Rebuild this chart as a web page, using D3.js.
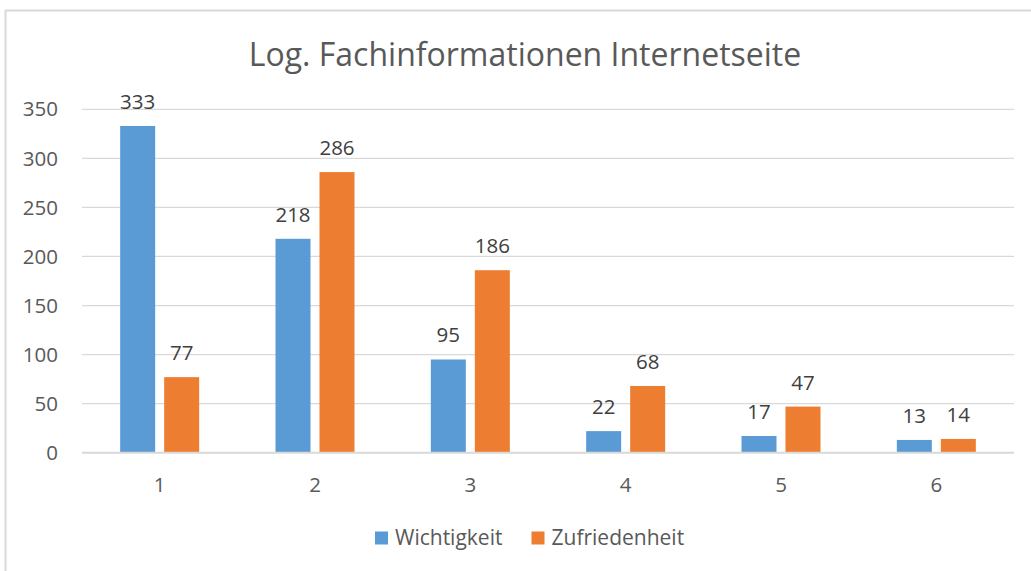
<!DOCTYPE html>
<html>
<head>
<meta charset="utf-8">
<script src="https://cdn.jsdelivr.net/npm/d3@7"></script>
<style>
  body { margin: 0; background: #fff; }
  svg { display: block; font-family: "Open Sans", "Noto Sans", sans-serif; }
</style>
</head>
<body>
<svg width="1031" height="571"></svg>
<script>
// chart values
var categories = ["1", "2", "3", "4", "5", "6"];
var seriesNames = ["Wichtigkeit", "Zufriedenheit"];
var wichtigkeit = [333, 218, 95, 22, 17, 13];
var zufriedenheit = [77, 286, 186, 68, 47, 14];
var yTicks = [0, 50, 100, 150, 200, 250, 300, 350];
var colors = ["#5B9BD5", "#ED7D31"];

var svg = d3.select("svg"),
  width = +svg.attr("width"),
  height = +svg.attr("height");

// outer frame (only left and top edges are visible in the crop)
svg.append("line").attr("x1", 5.5).attr("x2", 5.5).attr("y1", 10).attr("y2", height)
  .attr("stroke", "#D9D9D9").attr("stroke-width", 2);
svg.append("line").attr("x1", 5).attr("x2", width).attr("y1", 10.5).attr("y2", 10.5)
  .attr("stroke", "#D9D9D9").attr("stroke-width", 2);

// title
svg.append("text")
  .attr("x", 525)
  .attr("y", 66)
  .attr("text-anchor", "middle")
  .style("font-size", "32px")
  .style("fill", "#595959")
  .text("Log. Fachinformationen Internetseite");

var plotLeft = 82, plotRight = 1014, plotTop = 109.3, plotBottom = 452.7;

var x = d3.scaleBand()
  .domain(categories)
  .range([plotLeft, plotRight])
  .padding(0);

var x1 = d3.scaleBand()
  .domain(seriesNames)
  .range([-39.5, 39.5])
  .paddingInner(9 / 44);

var y = d3.scaleLinear()
  .domain([0, 350])
  .range([plotBottom, plotTop]);

// gridlines
svg.append("g")
  .selectAll("line")
  .data(yTicks.filter(function (d) { return d > 0; }))
  .enter().append("line")
  .attr("x1", plotLeft)
  .attr("x2", plotRight)
  .attr("y1", function (d) { return y(d); })
  .attr("y2", function (d) { return y(d); })
  .attr("stroke", "#D9D9D9")
  .attr("stroke-width", 1.3);

// y tick labels
svg.append("g")
  .selectAll("text")
  .data(yTicks)
  .enter().append("text")
  .attr("x", 58)
  .attr("y", function (d) { return y(d); })
  .attr("dy", "0.35em")
  .attr("text-anchor", "end")
  .style("font-size", "20.5px")
  .style("fill", "#595959")
  .text(function (d) { return d; });

// bars
var rows = categories.map(function (c, i) {
  return { cat: c, values: [wichtigkeit[i], zufriedenheit[i]] };
});

var groups = svg.append("g")
  .selectAll("g")
  .data(rows)
  .enter().append("g")
  .attr("transform", function (d) { return "translate(" + (x(d.cat) + x.bandwidth() / 2) + ",0)"; });

groups.selectAll("rect")
  .data(function (d) { return d.values.map(function (v, j) { return { key: seriesNames[j], value: v, j: j }; }); })
  .enter().append("rect")
  .attr("x", function (d) { return x1(d.key); })
  .attr("width", x1.bandwidth())
  .attr("y", function (d) { return y(d.value); })
  .attr("height", function (d) { return plotBottom - y(d.value); })
  .attr("fill", function (d) { return colors[d.j]; });

// data labels
groups.selectAll("text")
  .data(function (d) { return d.values.map(function (v, j) { return { key: seriesNames[j], value: v }; }); })
  .enter().append("text")
  .attr("x", function (d) { return x1(d.key) + x1.bandwidth() / 2; })
  .attr("y", function (d) { return y(d.value) - 17; })
  .attr("text-anchor", "middle")
  .style("font-size", "20.5px")
  .style("fill", "#404040")
  .text(function (d) { return d.value; });

// x axis line
svg.append("line")
  .attr("x1", plotLeft).attr("x2", plotRight)
  .attr("y1", plotBottom).attr("y2", plotBottom)
  .attr("stroke", "#D9D9D9")
  .attr("stroke-width", 2);

// x tick labels
svg.append("g")
  .selectAll("text")
  .data(categories)
  .enter().append("text")
  .attr("x", function (d) { return x(d) + x.bandwidth() / 2; })
  .attr("y", 492)
  .attr("text-anchor", "middle")
  .style("font-size", "20.5px")
  .style("fill", "#595959")
  .text(function (d) { return d; });

// legend
var legendX = [375, 531.5];
var legend = svg.append("g")
  .selectAll("g")
  .data(seriesNames)
  .enter().append("g")
  .attr("transform", function (d, i) { return "translate(" + legendX[i] + ",531.5)"; });

legend.append("rect")
  .attr("width", 13)
  .attr("height", 13)
  .attr("fill", function (d, i) { return colors[i]; });

legend.append("text")
  .attr("x", 20)
  .attr("y", 13.5)
  .style("font-size", "21px")
  .style("fill", "#595959")
  .text(function (d) { return d; });
</script>
</body>
</html>
